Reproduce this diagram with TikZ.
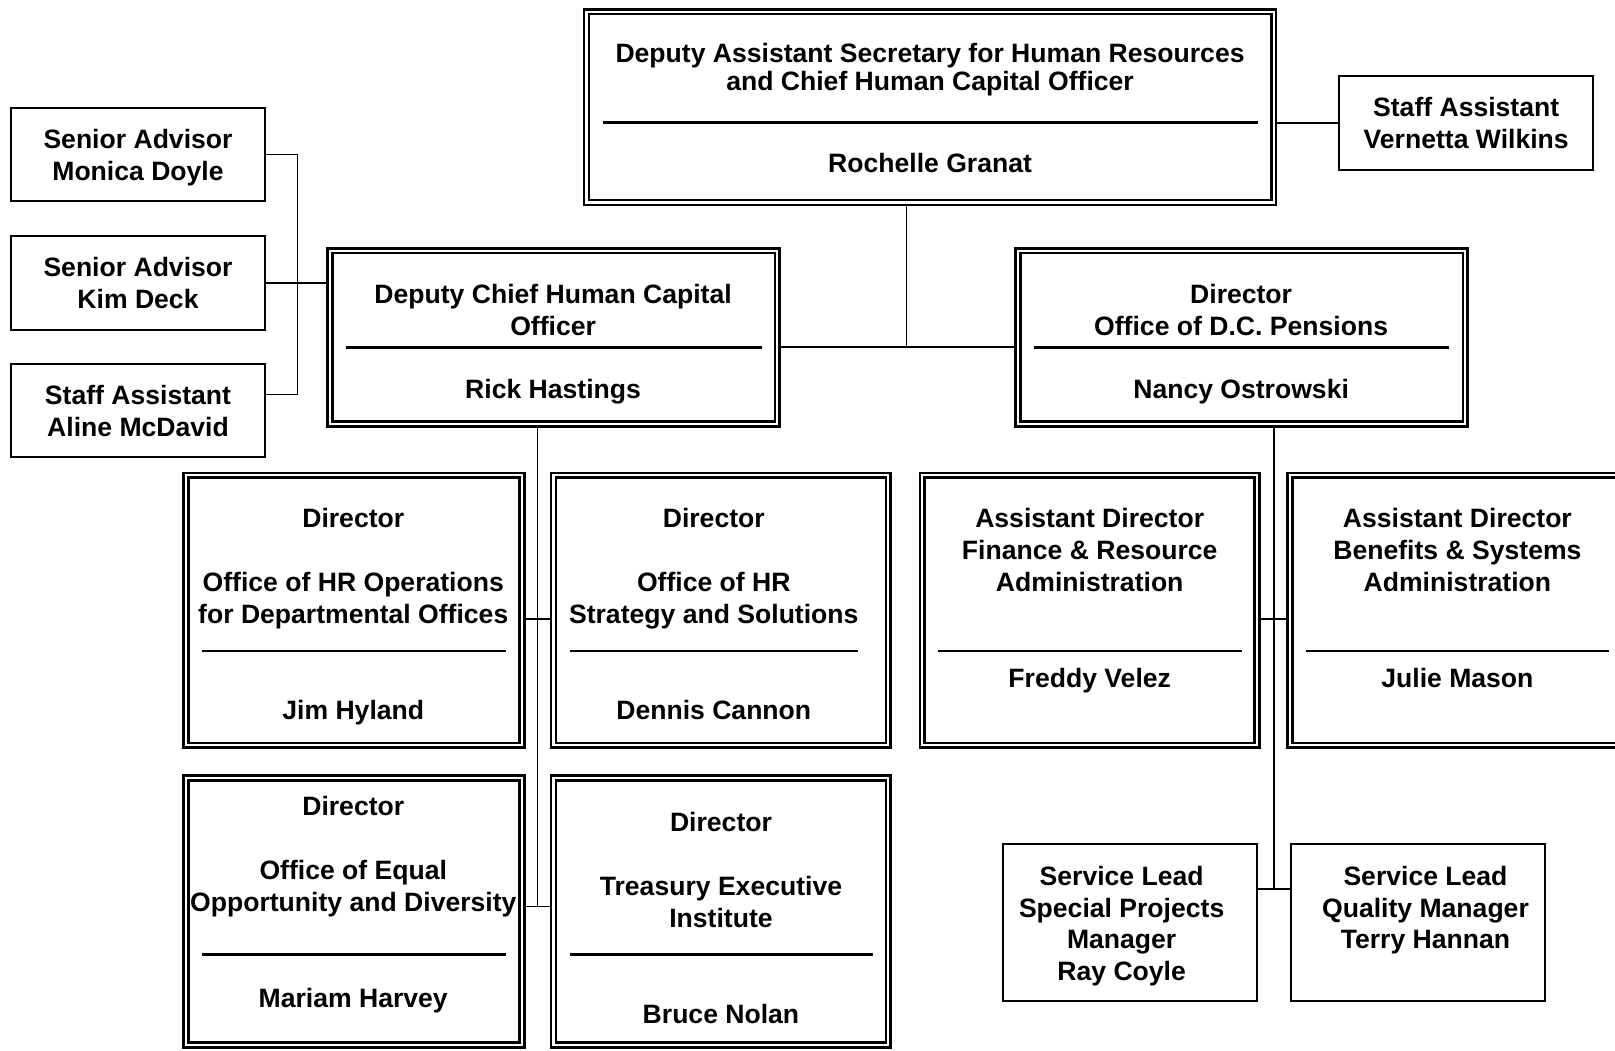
\documentclass[tikz,border=0pt]{standalone}
\usepackage{fontspec}
\setmainfont{Liberation Sans}
\usetikzlibrary{backgrounds}
\tikzset{
  unit/.style = {draw, double, double distance=1pt, line width=1.3pt, inner sep=0pt},
  aide/.style = {draw, line width=1pt, inner sep=0pt, align=center, text depth=0pt, font=\fontsize{12.9}{15.5}\selectfont\bfseries},
  lbl/.style = {align=center, inner sep=0pt, text depth=0pt, font=\fontsize{12.9}{15.5}\selectfont\bfseries},
  rule/.style = {line width=1.4pt},
  link/.style = {line width=0.8pt},
}
\begin{document}
\begin{tikzpicture}[x=0.5pt, y=-0.5pt]
    \useasboundingbox (0,0) rectangle (1568,1020);

    % boxes with a double frame
    \node[unit, minimum width=333.6pt, minimum height=92.6pt] (chco) at (903,104) {};
    \node[unit, minimum width=217.1pt, minimum height=84.1pt] (dep) at (537.5,327.5) {};
    \node[unit, minimum width=217.1pt, minimum height=84.1pt] (pen) at (1205.5,327.5) {};
    \node[unit, minimum width=163.1pt, minimum height=131.1pt] (ops) at (343.5,592.5) {};
    \node[unit, minimum width=162.6pt, minimum height=131.1pt] (hrs) at (700,592.5) {};
    \node[unit, minimum width=163.1pt, minimum height=129.6pt] (eeo) at (343.5,885) {};
    \node[unit, minimum width=162.6pt, minimum height=129.6pt] (tei) at (700,885) {};
    \node[unit, minimum width=162.6pt, minimum height=131.1pt] (fra) at (1058,592.5) {};
    \node[unit, minimum width=162.6pt, minimum height=131.1pt] (bsa) at (1415,592.5) {};

    % single boxes
    \node[aide, minimum width=123.5pt, minimum height=45.5pt] (vw) at (1423.5,119.5) {Staff Assistant\\Vernetta Wilkins};
    \node[aide, minimum width=123pt, minimum height=45pt] (md) at (134,150) {Senior Advisor\\Monica Doyle};
    \node[aide, minimum width=123pt, minimum height=45.5pt] (kd) at (134,274.5) {Senior Advisor\\Kim Deck};
    \node[aide, minimum width=123pt, minimum height=45.5pt] (am) at (134,398.5) {Staff Assistant\\Aline McDavid};
    \node[aide, minimum width=123pt, minimum height=76.5pt] (spm) at (1097,895.5) {};
    \node[aide, minimum width=123.5pt, minimum height=76.5pt] (qm) at (1376.5,895.5) {};

    % titles and names
    \node[lbl, font=\fontsize{12.9}{13.5}\selectfont\bfseries] (chco-t) at (903,65) {Deputy Assistant Secretary for Human Resources\\and Chief Human Capital Officer};
    \node[lbl] (chco-n) at (903,158) {Rochelle Granat};
    \node[lbl] (dep-t) at (537,300.5) {Deputy Chief Human Capital\\Officer};
    \node[lbl] (dep-n) at (537,378) {Rick Hastings};
    \node[lbl] (pen-t) at (1205,300.5) {Director\\Office of D.C. Pensions};
    \node[lbl] (pen-n) at (1205,378) {Nancy Ostrowski};
    \node[lbl] (ops-t) at (343,549.5) {Director\\[15.5pt]Office of HR Operations\\for Departmental Offices};
    \node[lbl] (ops-n) at (343,689) {Jim Hyland};
    \node[lbl] (hrs-t) at (693,549.5) {Director\\[15.5pt]Office of HR\\Strategy and Solutions};
    \node[lbl] (hrs-n) at (693,689) {Dennis Cannon};
    \node[lbl] (eeo-t) at (343,829) {Director\\[15.5pt]Office of Equal\\Opportunity and Diversity};
    \node[lbl] (eeo-n) at (343,969) {Mariam Harvey};
    \node[lbl] (tei-t) at (700,844.5) {Director\\[15.5pt]Treasury Executive\\Institute};
    \node[lbl] (tei-n) at (700,984) {Bruce Nolan};
    \node[lbl] (fra-t) at (1058,534) {Assistant Director\\Finance \& Resource\\Administration};
    \node[lbl] (fra-n) at (1058,658) {Freddy Velez};
    \node[lbl] (bsa-t) at (1415,534) {Assistant Director\\Benefits \& Systems\\Administration};
    \node[lbl] (bsa-n) at (1415,658) {Julie Mason};
    \node[lbl] (spm-t) at (1089,896.5) {Service Lead\\Special Projects\\Manager\\Ray Coyle};
    \node[lbl] (qm-t) at (1384,881) {Service Lead\\Quality Manager\\Terry Hannan};

    % rules between title and name
    \draw[rule] (585,119) -- (1221,119);
    \draw[rule] (336,337) -- (740,337);
    \draw[rule] (1004,337) -- (1407,337);
    \draw[rule] (196,632) -- (491,632);
    \draw[rule] (553,632) -- (833,632);
    \draw[rule] (911,632) -- (1206,632);
    \draw[rule] (1268,632) -- (1562,632);
    \draw[rule] (196,927) -- (491,927);
    \draw[rule] (553,927) -- (848,927);

    % branch points
    \coordinate (hub) at (880,337);
    \coordinate (adv) at (289,274.5);
    \coordinate (d1) at (522,601);
    \coordinate (d2) at (522,880);
    \coordinate (p1) at (1237,601);
    \coordinate (p2) at (1237,863);

    \begin{scope}[on background layer]
    \draw[link] (chco.south -| hub) -- (hub);
    \draw[link] (dep.east |- hub) -- (pen.west |- hub);
    \draw[link] (chco.east |- vw.west) -- (vw.west);
    \draw[link] (md.east) -| (adv) |- ([yshift=7.75pt]am.east);
    \draw[link] (kd.east) -- (dep.west |- kd.east);
    \draw[link] (dep.south -| d2) -- (d2);
    \draw[link] (ops.east |- d1) -- (hrs.west |- d1);
    \draw[link] (eeo.east |- d2) -- (tei.west |- d2);
    \draw[link] (pen.south -| p2) -- (p2);
    \draw[link] (fra.east |- p1) -- (bsa.west |- p1);
    \draw[link] (spm.east |- p2) -- (qm.west |- p2);
    \end{scope}

\end{tikzpicture}
\end{document}
